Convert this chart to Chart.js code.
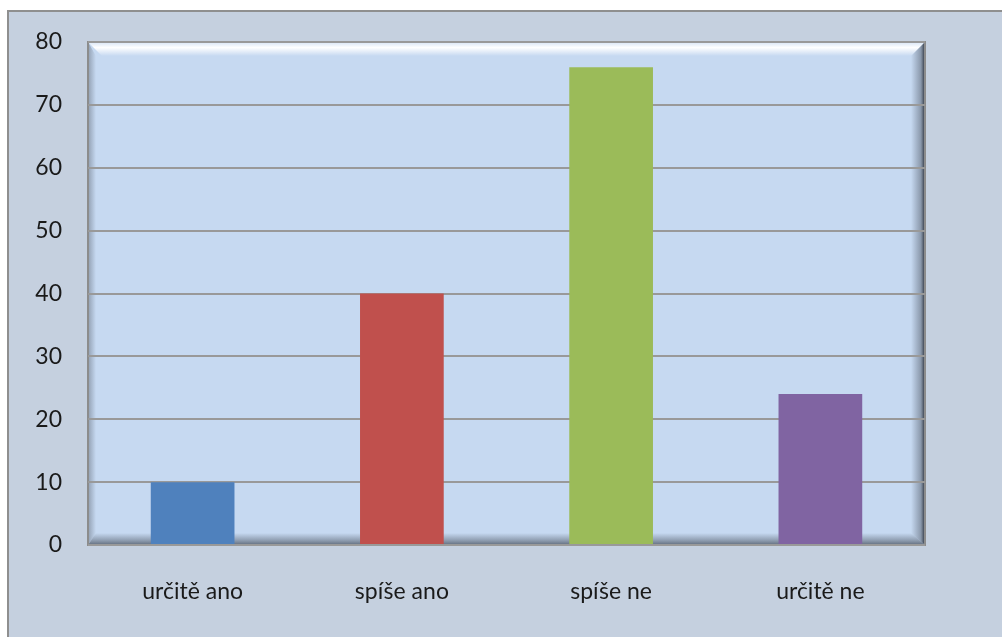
<!DOCTYPE html>
<html>
<head>
<meta charset="utf-8">
<script src="https://cdn.jsdelivr.net/npm/chart.js@4/dist/chart.umd.min.js"></script>
<style>
  html, body { margin: 0; padding: 0; background: #fff; }
  #wrap { width: 1002px; height: 637px; }
</style>
</head>
<body>
<div id="wrap"><canvas id="graf" width="1002" height="637"></canvas></div>
<script>
// data
const kategorie = ["určitě ano", "spíše ano", "spíše ne", "určitě ne"];
const hodnoty = [10, 40, 76, 24];
const barvy = ["#4f81bd", "#c0504d", "#9bbb59", "#8064a2"];
const osaY = [0, 10, 20, 30, 40, 50, 60, 70, 80];

// pozadi + zkosena plocha grafu
const pozadi = {
    id: "pozadi",
    beforeDraw(chart) {
        const c = chart.ctx;
        const a = chart.chartArea;
        c.save();
        c.fillStyle = "#ffffff";
        c.fillRect(0, 0, chart.width, chart.height);
        c.fillStyle = "#c5d0df";
        c.fillRect(8, 11, chart.width - 8, chart.height - 11);
        c.fillStyle = "#8f8f8f";
        c.fillRect(8, 10, chart.width - 8, 2);
        c.fillRect(7, 10, 2, chart.height - 10);

        // plocha
        c.fillStyle = "#c6d9f1";
        c.fillRect(a.left, a.top, a.right - a.left, a.bottom - a.top);

        // horni svetly okraj
        let g = c.createLinearGradient(0, a.top, 0, a.top + 14);
        g.addColorStop(0, "rgba(255,255,255,0.3)");
        g.addColorStop(0.4, "rgba(255,255,255,1)");
        g.addColorStop(1, "rgba(255,255,255,0)");
        c.fillStyle = g;
        c.beginPath();
        c.moveTo(a.left, a.top);
        c.lineTo(a.right, a.top);
        c.lineTo(a.right - 14, a.top + 14);
        c.lineTo(a.left + 14, a.top + 14);
        c.closePath();
        c.fill();

        // pravy tmavy okraj
        g = c.createLinearGradient(a.right - 14, 0, a.right, 0);
        g.addColorStop(0, "rgba(90,100,115,0)");
        g.addColorStop(0.7, "rgba(90,100,115,0.55)");
        g.addColorStop(1, "rgba(30,35,45,0.95)");
        c.fillStyle = g;
        c.beginPath();
        c.moveTo(a.right, a.top);
        c.lineTo(a.right, a.bottom);
        c.lineTo(a.right - 14, a.bottom - 12);
        c.lineTo(a.right - 14, a.top + 14);
        c.closePath();
        c.fill();

        // spodni okraj
        g = c.createLinearGradient(0, a.bottom - 12, 0, a.bottom);
        g.addColorStop(0, "rgba(90,100,115,0)");
        g.addColorStop(0.6, "rgba(90,100,115,0.5)");
        g.addColorStop(1, "rgba(70,80,95,0.8)");
        c.fillStyle = g;
        c.beginPath();
        c.moveTo(a.left, a.bottom);
        c.lineTo(a.right, a.bottom);
        c.lineTo(a.right - 14, a.bottom - 12);
        c.lineTo(a.left + 8, a.bottom - 12);
        c.closePath();
        c.fill();

        // levy okraj
        g = c.createLinearGradient(a.left, 0, a.left + 8, 0);
        g.addColorStop(0, "rgba(110,120,135,0.6)");
        g.addColorStop(1, "rgba(110,120,135,0)");
        c.fillStyle = g;
        c.beginPath();
        c.moveTo(a.left, a.top);
        c.lineTo(a.left + 8, a.top + 14);
        c.lineTo(a.left + 8, a.bottom - 12);
        c.lineTo(a.left, a.bottom);
        c.closePath();
        c.fill();

        c.strokeStyle = "#8c8c8c";
        c.lineWidth = 2;
        c.strokeRect(a.left, a.top, a.right - a.left, a.bottom - a.top);
        c.restore();
    }
};

new Chart(document.getElementById("graf"), {
    type: "bar",
    data: {
        labels: kategorie,
        datasets: [{
            data: hodnoty,
            backgroundColor: barvy,
            borderWidth: 0,
            barPercentage: 0.4,
            categoryPercentage: 1
        }]
    },
    options: {
        responsive: false,
        animation: false,
        layout: { padding: { top: 42, right: 77, left: 0, bottom: 0 } },
        plugins: { legend: { display: false }, tooltip: { enabled: false } },
        scales: {
            x: {
                grid: { display: false, drawTicks: false },
                border: { display: false },
                ticks: { color: "#1a1a1a", font: { family: "Lato", size: 23 }, padding: 33 },
                afterFit: s => { s.height = 92; }
            },
            y: {
                min: 0,
                max: 80,
                afterBuildTicks: s => { s.ticks = osaY.map(v => ({ value: v })); },
                grid: { color: "#999999", lineWidth: 2, drawTicks: false },
                border: { display: false },
                ticks: { color: "#1a1a1a", font: { family: "Lato", size: 23 }, padding: 26 },
                afterFit: s => { s.width = 88; }
            }
        }
    },
    plugins: [pozadi]
});
</script>
</body>
</html>
